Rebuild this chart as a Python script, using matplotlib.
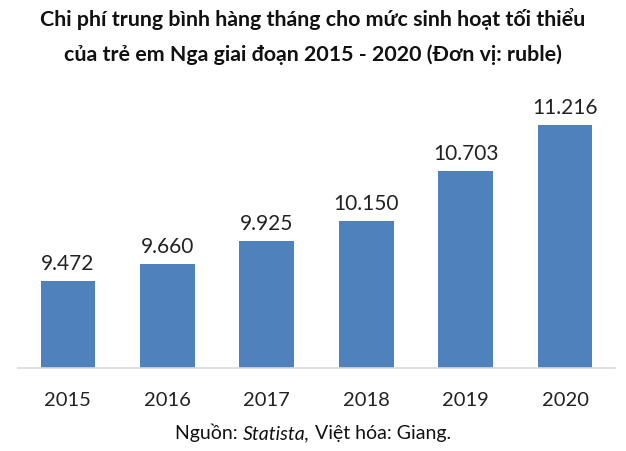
import matplotlib
matplotlib.use("Agg")
import matplotlib.pyplot as plt
from matplotlib.offsetbox import TextArea, HPacker, AnchoredOffsetbox

years = ["2015", "2016", "2017", "2018", "2019", "2020"]
values = [9.472, 9.660, 9.925, 10.150, 10.703, 11.216]
labels = ["9.472", "9.660", "9.925", "10.150", "10.703", "11.216"]

plt.rcParams['font.family'] = ['Lato', 'DejaVu Sans']

fig = plt.figure(figsize=(6.26, 4.52), dpi=100)
ax = fig.add_axes([0.029, 0.183, 0.953, 0.594])

x = range(len(years))
ax.bar(x, values, width=0.55, color="#4F81BD")
ax.set_ylim(8.5, 11.5)
ax.set_xlim(-0.5, len(years) - 0.5)

for i, v in enumerate(values):
    ax.text(i, v + 0.09, labels[i], ha="center", va="bottom", fontsize=15, color="#222222")

ax.set_xticks(list(x))
ax.set_xticklabels(years, fontsize=14.5, color="#222222")
ax.tick_params(axis="x", length=0, pad=16)
ax.set_yticks([])
for s in ["top", "left", "right"]:
    ax.spines[s].set_visible(False)
ax.spines["bottom"].set_color("#D9D9D9")
ax.spines["bottom"].set_linewidth(1.2)

fig.text(0.5, 0.958, "Chi phí trung bình hàng tháng cho mức sinh hoạt tối thiểu",
         ha="center", va="center", fontsize=15.4, fontweight="bold", color="#111111")
fig.text(0.5, 0.878, "của trẻ em Nga giai đoạn 2015 - 2020 (Đơn vị: ruble)",
         ha="center", va="center", fontsize=15.4, fontweight="bold", color="#111111")

# source line, italic part in the middle
parts = [TextArea("Nguồn: ", textprops=dict(fontsize=14, color="#111111")),
         TextArea("Statista,", textprops=dict(fontsize=14, color="#111111", style="italic")),
         TextArea(" Việt hóa: Giang.", textprops=dict(fontsize=14, color="#111111"))]
box = HPacker(children=parts, align="baseline", pad=0, sep=0)
anch = AnchoredOffsetbox(loc="center", child=box, frameon=False,
                         bbox_to_anchor=(0.5, 0.042), bbox_transform=fig.transFigure, borderpad=0)
fig.add_artist(anch)

fig.savefig("out.png", dpi=100)
